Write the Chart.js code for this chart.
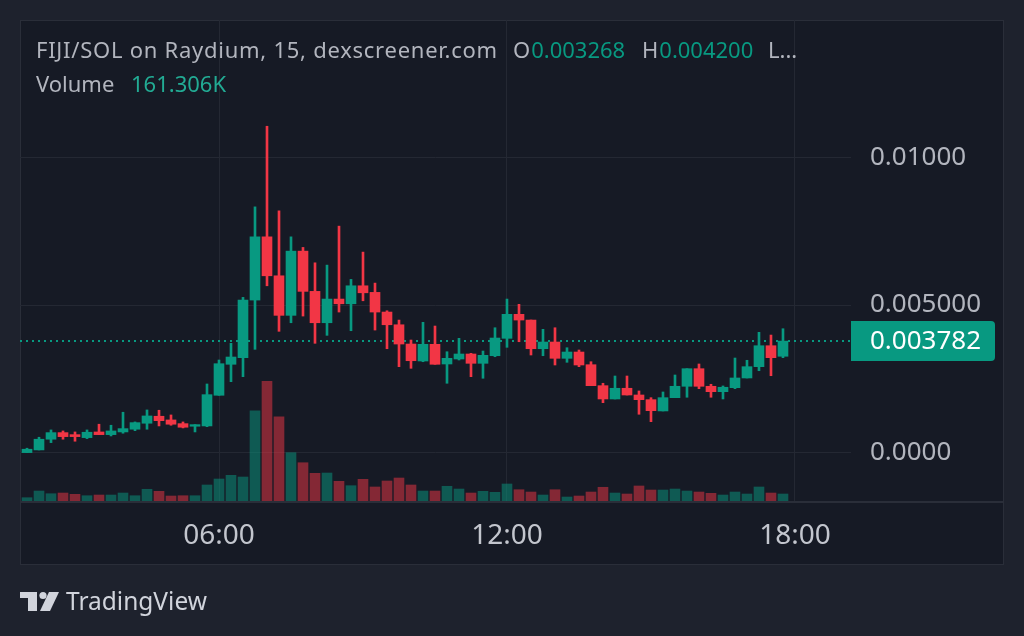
<!DOCTYPE html>
<html>
<head>
<meta charset="utf-8">
<script src="https://cdn.jsdelivr.net/npm/chart.js@4.4.1/dist/chart.umd.min.js"></script>
<style>
  html, body { margin: 0; padding: 0; background: #1e222d; }
  canvas { display: block; }
</style>
</head>
<body>
<canvas id="chart" width="1024" height="636"></canvas>
<script>
// 15 minute candles, FIJI/SOL
const times = [
  '02:00','02:15','02:30','02:45','03:00','03:15','03:30','03:45',
  '04:00','04:15','04:30','04:45','05:00','05:15','05:30','05:45',
  '06:00','06:15','06:30','06:45','07:00','07:15','07:30','07:45',
  '08:00','08:15','08:30','08:45','09:00','09:15','09:30','09:45',
  '10:00','10:15','10:30','10:45','11:00','11:15','11:30','11:45',
  '12:00','12:15','12:30','12:45','13:00','13:15','13:30','13:45',
  '14:00','14:15','14:30','14:45','15:00','15:15','15:30','15:45',
  '16:00','16:15','16:30','16:45','17:00','17:15','17:30','17:45'
];

const opens = [
  0.000010,0.000101,0.000463,0.000686,0.000618,0.000517,0.000709,0.000618,0.000709,0.000801,
  0.001003,0.001240,0.001115,0.000990,0.000902,0.000912,0.001949,0.002997,0.003220,0.005169,
  0.007307,0.005990,0.004652,0.006824,0.005463,0.004402,0.005203,0.005044,0.005652,0.005429,
  0.004764,0.004334,0.003682,0.003108,0.003672,0.003007,0.003176,0.003345,0.003030,0.003287,
  0.003875,0.004686,0.004493,0.003524,0.003750,0.003199,0.003412,0.002983,0.002274,0.001824,
  0.002186,0.001959,0.001801,0.001419,0.001868,0.002253,0.002848,0.002253,0.002071,0.002206,
  0.002534,0.002916,0.003625,0.003268
];
const highs = [
  0.000159,0.000530,0.000777,0.000743,0.000709,0.000777,0.000970,0.000936,0.001375,0.001047,
  0.001453,0.001443,0.001284,0.001047,0.000956,0.002331,0.003142,0.003706,0.005260,0.008321,
  0.011047,0.008186,0.007307,0.006949,0.006429,0.006351,0.007669,0.005868,0.006791,0.005743,
  0.004807,0.004493,0.003818,0.004416,0.004291,0.003422,0.003875,0.003368,0.003446,0.004233,
  0.005203,0.005024,0.004493,0.004179,0.004233,0.003557,0.003480,0.003084,0.002355,0.002601,
  0.002601,0.002095,0.001868,0.002061,0.002635,0.002848,0.003007,0.002321,0.002264,0.003209,
  0.003132,0.004078,0.003986,0.004200
];
const lows = [
  0.000010,0.000101,0.000348,0.000463,0.000395,0.000483,0.000618,0.000574,0.000666,0.000753,
  0.000801,0.000912,0.000936,0.000845,0.000709,0.000888,0.001949,0.002409,0.002578,0.003503,
  0.005652,0.004112,0.004402,0.004628,0.003706,0.003976,0.004764,0.004132,0.005145,0.004155,
  0.003524,0.002916,0.002861,0.003084,0.002997,0.002355,0.003142,0.002578,0.002524,0.003253,
  0.003571,0.003760,0.003311,0.003287,0.002973,0.003064,0.002916,0.002274,0.001699,0.001824,
  0.001959,0.001307,0.001057,0.001419,0.001868,0.001882,0.002172,0.001882,0.001824,0.002172,
  0.002534,0.002780,0.002611,0.003220
];
const closes = [
  0.000125,0.000463,0.000686,0.000551,0.000551,0.000699,0.000618,0.000743,0.000821,0.001024,
  0.001250,0.001091,0.000970,0.000868,0.000956,0.001970,0.003017,0.003243,0.005169,0.007307,
  0.005990,0.004652,0.006824,0.005463,0.004402,0.005203,0.005044,0.005652,0.005415,0.004764,
  0.004334,0.003682,0.003118,0.003672,0.002997,0.003199,0.003345,0.003030,0.003301,0.003885,
  0.004686,0.004493,0.003524,0.003750,0.003199,0.003412,0.002973,0.002274,0.001824,0.002186,
  0.001959,0.001801,0.001429,0.001868,0.002253,0.002848,0.002253,0.002071,0.002220,0.002534,
  0.002916,0.003625,0.003220,0.003782
];
// volume in thousands
const volumes = [
  76,230,168,184,154,122,138,138,184,122,
  270,223,115,122,122,369,507,592,553,2080,
  2758,1942,1113,882,638,645,454,353,500,323,
  461,530,369,230,230,339,276,184,223,200,
  392,260,207,138,260,92,115,207,316,184,
  161,346,253,253,276,230,207,177,138,207,
  161,323,184,161.306
];

const priceTicks = [0, 0.005, 0.01];
const priceTickLabels = ['0.0000', '0.005000', '0.01000'];
const timeTickHours = [6, 12, 18];
const timeTickLabels = ['06:00', '12:00', '18:00'];

const title = 'FIJI/SOL on Raydium, 15, dexscreener.com';
const lastIdx = closes.length - 1;

const UP = '#089981';
const DOWN = '#f23645';
const TEXT = '#b2b5be';
const GRID = '#242833';
const FONT = "'Noto Sans', sans-serif";

function hours(t) {
  const [h, m] = t.split(':').map(Number);
  return h + m / 60;
}

const isUp = closes.map((c, i) => c >= opens[i]);
const candleColors = isUp.map(u => u ? UP : DOWN);
const volColors = isUp.map(u => u ? 'rgba(8,153,129,0.5)' : 'rgba(242,54,69,0.5)');

function fmtVol(v) {
  return v.toFixed(3) + 'K';
}

// stretch a line of text a bit so it spans the same width as the screenshot
function fitText(c, text, x, y, width) {
  c.letterSpacing = '0px';
  const w = c.measureText(text).width;
  c.letterSpacing = ((width - w) / text.length).toFixed(2) + 'px';
  c.fillText(text, x, y);
  c.letterSpacing = '0px';
}

// frame + background
const framePlugin = {
  id: 'frame',
  beforeDraw(chart) {
    const c = chart.ctx;
    c.save();
    c.fillStyle = '#1e222d';
    c.fillRect(0, 0, chart.width, chart.height);
    c.fillStyle = '#161a25';
    c.fillRect(20, 20, 984, 545);
    c.strokeStyle = '#2a2e39';
    c.lineWidth = 1;
    c.strokeRect(20.5, 20.5, 983, 544);
    c.restore();
  },
  afterDatasetsDraw(chart) {
    const c = chart.ctx;
    c.save();
    c.strokeStyle = '#2a2e39';
    c.lineWidth = 2;
    c.beginPath();
    c.moveTo(20, 502);
    c.lineTo(1004, 502);
    c.stroke();
    c.restore();
  }
};

// dotted last price line and label
const lastPricePlugin = {
  id: 'lastPrice',
  beforeDatasetsDraw(chart) {
    const c = chart.ctx;
    const a = chart.chartArea;
    const y = Math.round(chart.scales.y.getPixelForValue(closes[lastIdx]));
    c.save();
    c.strokeStyle = UP;
    c.lineWidth = 2;
    c.setLineDash([2, 4]);
    c.beginPath();
    c.moveTo(a.left, y);
    c.lineTo(a.right, y);
    c.stroke();
    c.restore();
  },
  afterDraw(chart) {
    const c = chart.ctx;
    const a = chart.chartArea;
    const y = Math.round(chart.scales.y.getPixelForValue(closes[lastIdx]));
    c.save();
    c.fillStyle = UP;
    c.beginPath();
    c.roundRect(a.right, y - 20, 144, 40, [0, 4, 4, 0]);
    c.fill();
    c.fillStyle = '#ffffff';
    c.font = '26px ' + FONT;
    c.textBaseline = 'middle';
    c.fillText(closes[lastIdx].toFixed(6), a.right + 19, y + 1);
    c.restore();
  }
};

// legend text at the top and the TradingView mark
const headerPlugin = {
  id: 'header',
  afterDraw(chart) {
    const c = chart.ctx;
    c.save();
    c.textBaseline = 'alphabetic';
    c.font = '22px ' + FONT;
    c.fillStyle = TEXT;
    fitText(c, title, 36, 58, 462);
    const seg = (label, val, x) => {
      c.fillStyle = TEXT;
      c.fillText(label, x, 58);
      if (val) {
        c.fillStyle = UP;
        c.fillText(val, x + c.measureText(label).width + 1, 58);
      }
    };
    seg('O', opens[lastIdx].toFixed(6), 513);
    seg('H', highs[lastIdx].toFixed(6), 642);
    seg('L...', null, 768);
    c.fillStyle = TEXT;
    c.fillText('Volume', 36, 92);
    c.fillStyle = '#22ab94';
    c.fillText(fmtVol(volumes[lastIdx]), 131, 92);

    // logo
    c.fillStyle = '#d1d4dc';
    c.fillRect(20, 592, 17, 6);
    c.fillRect(28, 592, 9, 19);
    c.beginPath();
    c.arc(43, 595.5, 3.6, 0, Math.PI * 2);
    c.fill();
    c.beginPath();
    c.moveTo(49, 592);
    c.lineTo(59, 592);
    c.lineTo(50, 611);
    c.lineTo(40, 611);
    c.closePath();
    c.fill();
    c.font = '24.5px ' + FONT;
    c.fillText('TradingView', 66, 610);
    c.restore();
  }
};

new Chart(document.getElementById('chart').getContext('2d'), {
  type: 'bar',
  data: {
    datasets: [
      {
        label: 'body',
        data: times.map((t, i) => ({ x: hours(t), y: [opens[i], closes[i]] })),
        backgroundColor: candleColors,
        barThickness: 10,
        minBarLength: 1,
        grouped: false,
        order: 1,
        yAxisID: 'y'
      },
      {
        label: 'wick',
        data: times.map((t, i) => ({ x: hours(t), y: [lows[i], highs[i]] })),
        backgroundColor: candleColors,
        barThickness: 2,
        grouped: false,
        order: 2,
        yAxisID: 'y'
      },
      {
        label: 'Volume',
        data: times.map((t, i) => ({ x: hours(t), y: volumes[i] })),
        backgroundColor: volColors,
        barThickness: 10,
        grouped: false,
        order: 3,
        yAxisID: 'yv'
      }
    ]
  },
  options: {
    responsive: false,
    animation: false,
    events: [],
    layout: { padding: { left: 20, top: 20, right: 20, bottom: 71 } },
    plugins: { legend: { display: false }, tooltip: { enabled: false } },
    scales: {
      x: {
        type: 'linear',
        min: 1.854,
        max: 19.167,
        offset: false,
        grid: { color: GRID, offset: false, drawTicks: false },
        border: { display: false },
        afterBuildTicks: s => { s.ticks = timeTickHours.map(v => ({ value: v })); },
        afterFit: s => { s.height = 63; s.paddingLeft = 0; s.paddingRight = 0; },
        ticks: {
          autoSkip: false,
          maxRotation: 0,
          padding: 17,
          color: '#c3c6ce',
          font: { family: FONT, size: 28 },
          callback: v => timeTickLabels[timeTickHours.indexOf(v)]
        }
      },
      y: {
        position: 'right',
        min: -0.00166,
        max: 0.01464,
        grid: { color: GRID, drawTicks: false },
        border: { display: false },
        afterBuildTicks: s => { s.ticks = priceTicks.map(v => ({ value: v })); },
        afterFit: s => { s.width = 153; s.paddingTop = 0; s.paddingBottom = 0; },
        ticks: {
          padding: 19,
          color: TEXT,
          font: { family: FONT, size: 26 },
          callback: v => priceTickLabels[priceTicks.indexOf(v)]
        }
      },
      yv: {
        display: false,
        min: -23,
        max: 11084
      }
    }
  },
  plugins: [framePlugin, lastPricePlugin, headerPlugin]
});
</script>
</body>
</html>
